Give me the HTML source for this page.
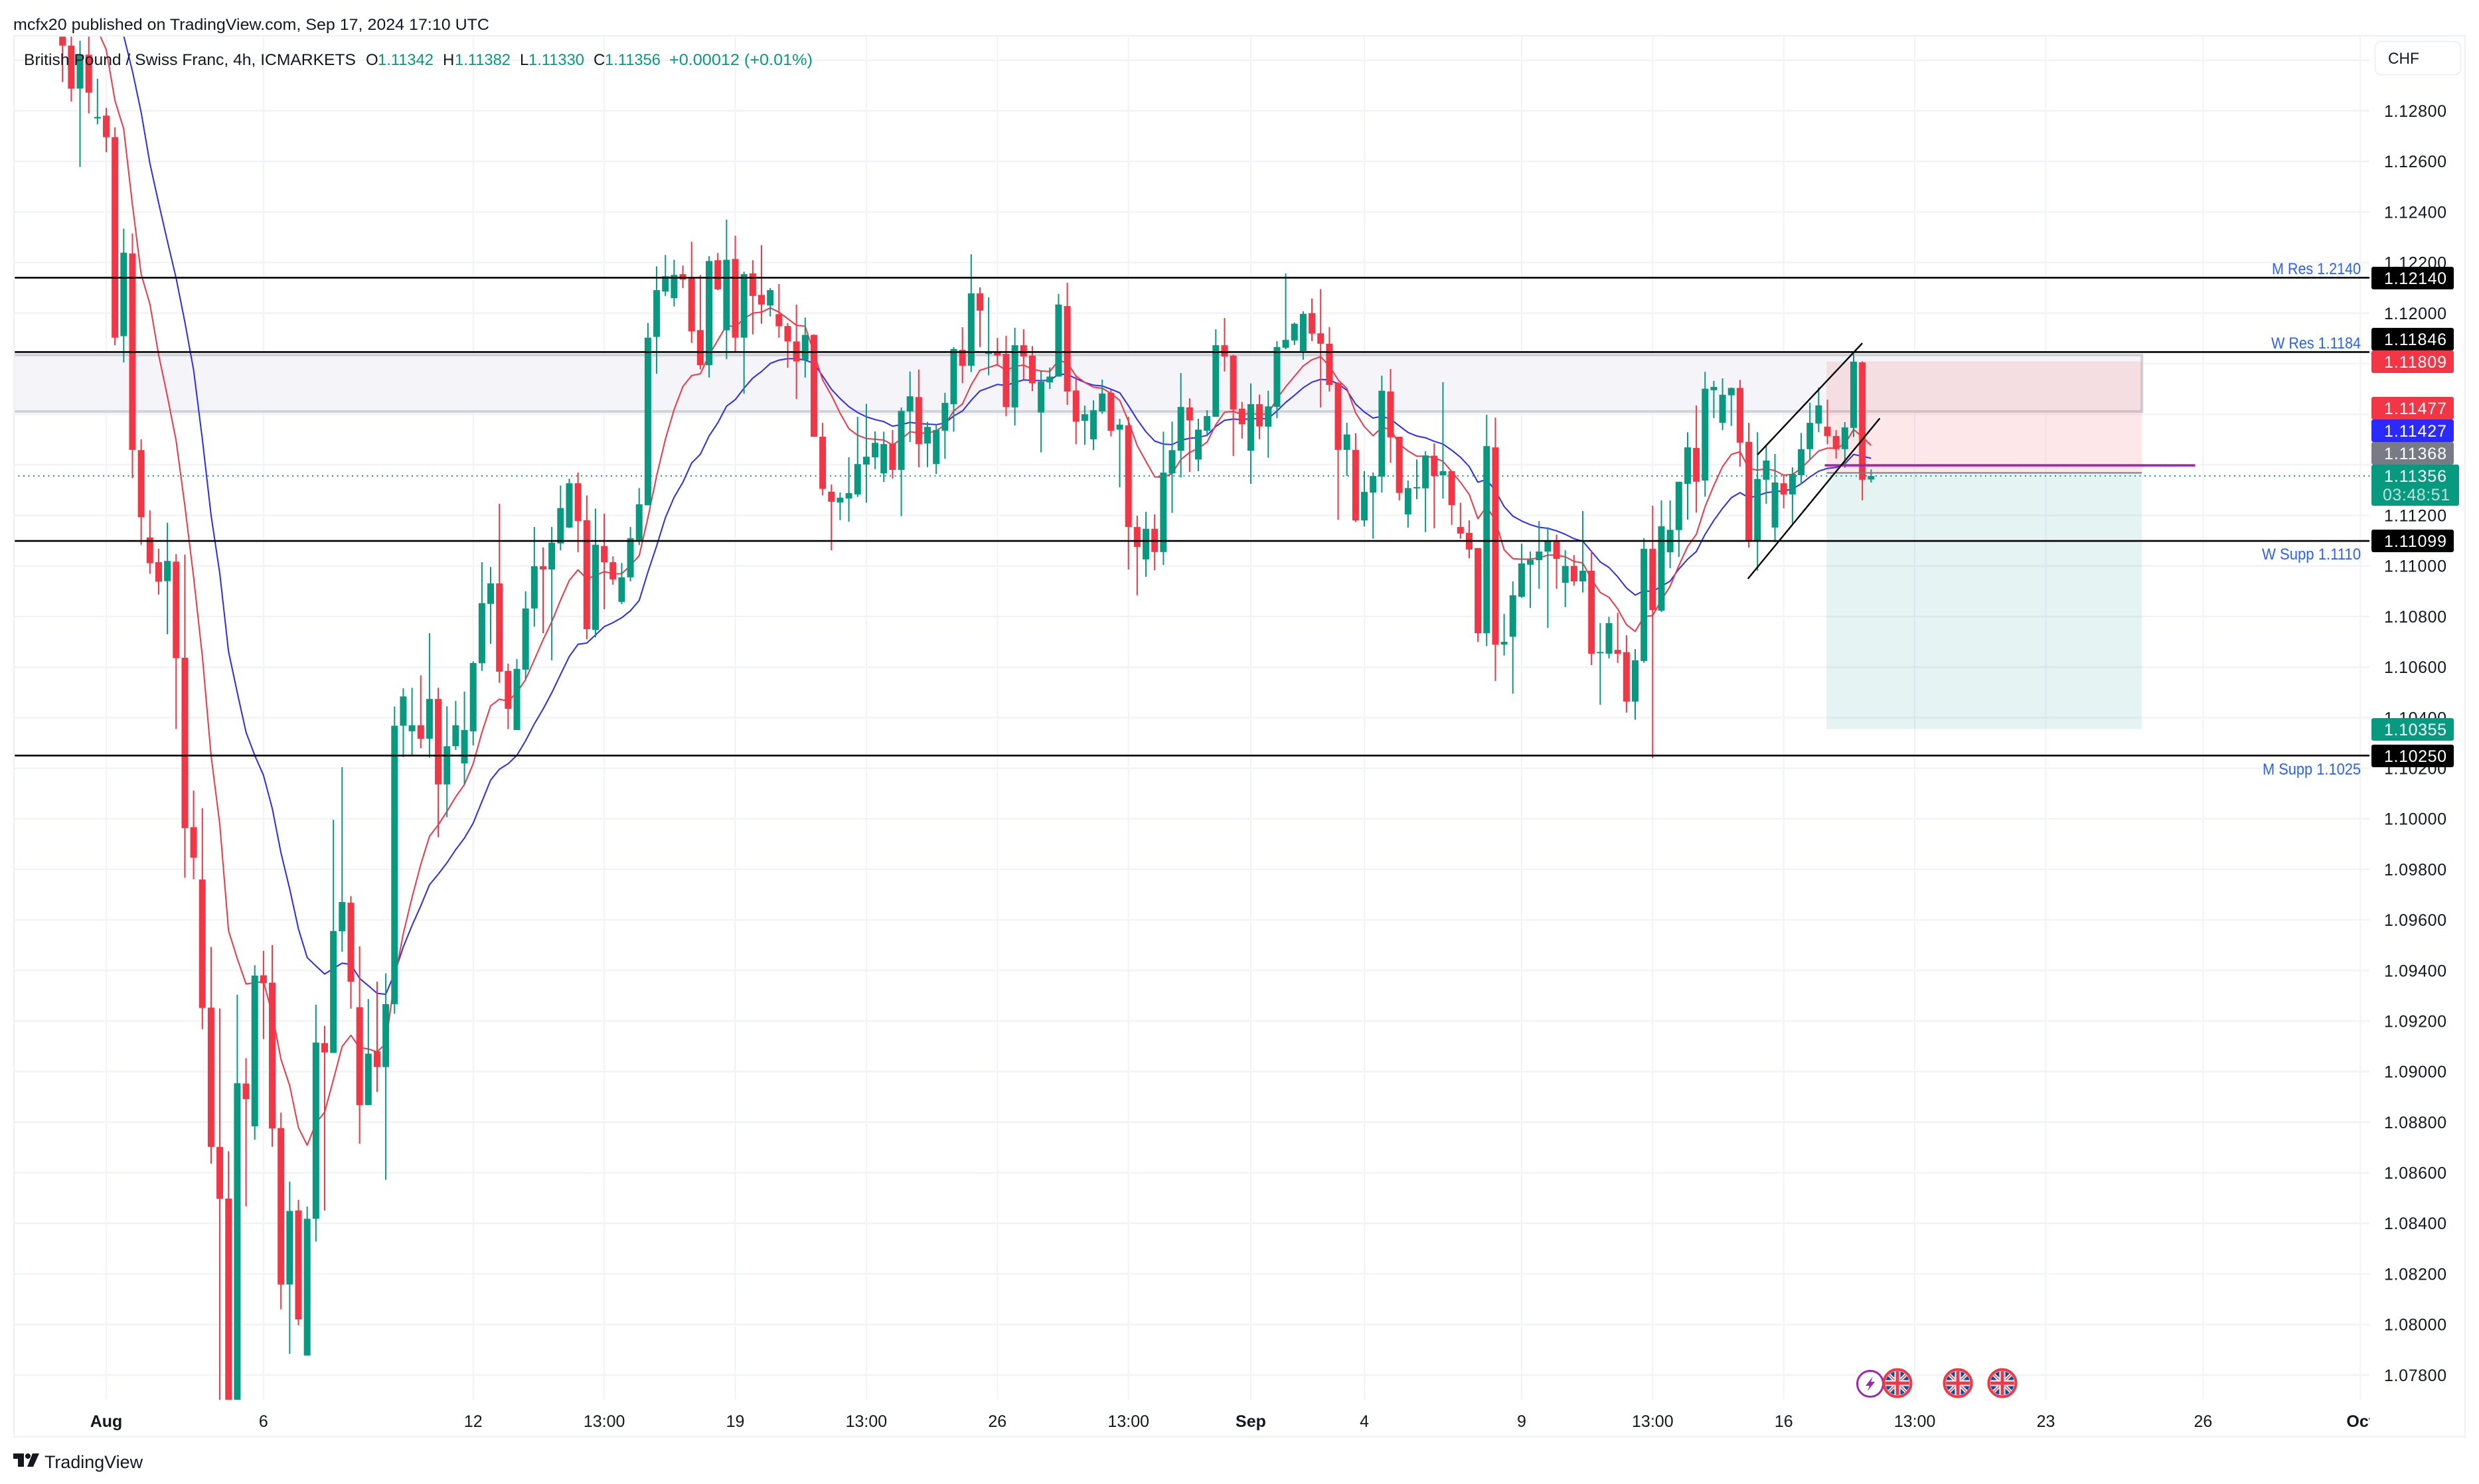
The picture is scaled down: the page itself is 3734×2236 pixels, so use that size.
<!DOCTYPE html>
<html lang="en">
<head>
<meta charset="utf-8">
<title>GBP/CHF 4h chart</title>
<style>
  html,body{margin:0;padding:0;background:#fff;width:3734px;height:2236px;overflow:hidden}
  svg{display:block}
  text{font-family:"Liberation Sans",sans-serif;fill:#131722}
  .tag{font-size:25px;fill:#fff}
  .lvl{font-size:24px;fill:#2962ff}
  .leg{font-size:24px}
  .val{font-size:24px;fill:#089981}
</style>
</head>
<body>
<svg id="chart" xmlns="http://www.w3.org/2000/svg" width="3734" height="2236" viewBox="0 0 3734 2236">
  <defs>
    <clipPath id="plot-clip"><rect x="20" y="53" width="3549" height="2056"/></clipPath>
    <clipPath id="time-clip"><rect x="20" y="2109" width="3549" height="56"/></clipPath>
    <clipPath id="flag-clip"><circle cx="0" cy="0" r="18"/></clipPath>
    <g id="uk-flag">
      <circle cx="0" cy="0" r="20.5" fill="#fff" stroke="#f23645" stroke-width="4"/>
      <g clip-path="url(#flag-clip)">
        <rect x="-18" y="-18" width="36" height="36" fill="#0f4a9c"/>
        <path d="M-18 -18L18 18M18 -18L-18 18" stroke="#fff" stroke-width="5"/>
        <path d="M-18 -18L18 18M18 -18L-18 18" stroke="#f23645" stroke-width="1.5"/>
        <path d="M0 -18V18M-18 0H18" stroke="#fff" stroke-width="9"/>
        <path d="M0 -18V18M-18 0H18" stroke="#f23645" stroke-width="5"/>
      </g>
    </g>
  </defs>

  <rect x="0" y="0" width="3734" height="2236" fill="#ffffff"/>
  <g id="grid"></g>
  <g id="drawings-under" clip-path="url(#plot-clip)"></g>
  <g id="ema" clip-path="url(#plot-clip)"></g>
  <g id="candles" clip-path="url(#plot-clip)"></g>
  <g id="drawings-over" clip-path="url(#plot-clip)"></g>

  <rect x="21" y="54" width="3692" height="2111" fill="none" stroke="#f0f1f6" stroke-width="2.5"/>

  <text x="20" y="45" font-size="24" textLength="717" lengthAdjust="spacingAndGlyphs">mcfx20 published on TradingView.com, Sep 17, 2024 17:10 UTC</text>

  <g>
    <text class="leg" x="36" y="98" textLength="500" lengthAdjust="spacingAndGlyphs">British Pound / Swiss Franc, 4h, ICMARKETS</text>
    <text class="leg" x="551" y="98">O</text>
    <text class="val" x="569" y="98" textLength="84" lengthAdjust="spacingAndGlyphs">1.11342</text>
    <text class="leg" x="667" y="98">H</text>
    <text class="val" x="685" y="98" textLength="84" lengthAdjust="spacingAndGlyphs">1.11382</text>
    <text class="leg" x="783" y="98">L</text>
    <text class="val" x="796" y="98" textLength="84" lengthAdjust="spacingAndGlyphs">1.11330</text>
    <text class="leg" x="894" y="98">C</text>
    <text class="val" x="911" y="98" textLength="84" lengthAdjust="spacingAndGlyphs">1.11356</text>
    <text class="val" x="1008" y="98" textLength="216" lengthAdjust="spacingAndGlyphs">+0.00012 (+0.01%)</text>
  </g>

  <g id="price-axis"></g>
  <g id="time-axis" clip-path="url(#time-clip)"></g>

  <g>
    <rect x="3577.5" y="62.5" width="129" height="50" rx="9" fill="#fff" stroke="#f0f1f6" stroke-width="2"/>
    <text x="3597" y="96" font-size="24" textLength="47" lengthAdjust="spacingAndGlyphs">CHF</text>
  </g>

  <g>
    <text class="lvl" x="3422" y="413" textLength="134" lengthAdjust="spacingAndGlyphs">M Res 1.2140</text>
    <text class="lvl" x="3421" y="525" textLength="135" lengthAdjust="spacingAndGlyphs">W Res 1.1184</text>
    <text class="lvl" x="3407" y="843" textLength="149" lengthAdjust="spacingAndGlyphs">W Supp 1.1110</text>
    <text class="lvl" x="3408" y="1167" textLength="148" lengthAdjust="spacingAndGlyphs">M Supp 1.1025</text>
  </g>

  <g>
    <g><rect x="3572" y="402" width="124" height="34" rx="3" fill="#000"/><text class="tag" x="3591" y="428" textLength="94">1.12140</text></g>
    <g><rect x="3572" y="494" width="124" height="34" rx="3" fill="#000"/><text class="tag" x="3591" y="520" textLength="94">1.11846</text></g>
    <g><rect x="3572" y="528" width="124" height="34" rx="3" fill="#f23645"/><text class="tag" x="3591" y="554" textLength="94">1.11809</text></g>
    <g><rect x="3572" y="598" width="124" height="34" rx="3" fill="#f23645"/><text class="tag" x="3591" y="624" textLength="94">1.11477</text></g>
    <g><rect x="3572" y="632" width="124" height="34" rx="3" fill="#2a2aff"/><text class="tag" x="3591" y="658" textLength="94">1.11427</text></g>
    <g><rect x="3572" y="666" width="124" height="34" rx="3" fill="#787b86"/><text class="tag" x="3591" y="692" textLength="94">1.11368</text></g>
    <g><rect x="3572" y="700" width="132" height="62" rx="3" fill="#089981"/><text class="tag" x="3591" y="726" textLength="94">1.11356</text><text class="tag" x="3589" y="754" textLength="101" style="fill:rgba(255,255,255,.72)">03:48:51</text></g>
    <g><rect x="3572" y="798" width="124" height="34" rx="3" fill="#000"/><text class="tag" x="3591" y="824" textLength="94">1.11099</text></g>
    <g><rect x="3572" y="1082" width="124" height="34" rx="3" fill="#089981"/><text class="tag" x="3591" y="1108" textLength="94">1.10355</text></g>
    <g><rect x="3572" y="1122" width="124" height="34" rx="3" fill="#000"/><text class="tag" x="3591" y="1148" textLength="94">1.10250</text></g>
  </g>

  <g>
    <g transform="translate(2817 2085)">
      <circle cx="0" cy="0" r="19.5" fill="#fff" stroke="#9c27b0" stroke-width="3"/>
      <path d="M4 -11L-7 3H-1L-4 11L7 -3H1Z" fill="#9c27b0"/>
    </g>
    <use href="#uk-flag" transform="translate(2858 2084)"/>
    <use href="#uk-flag" transform="translate(2949 2084)"/>
    <use href="#uk-flag" transform="translate(3016 2084)"/>
  </g>

  <g>
    <path d="M20 2190H36V2210H27V2198H20Z" fill="#131722"/>
    <circle cx="42" cy="2194" r="4" fill="#131722"/>
    <path d="M49 2190H59L50 2210H41Z" fill="#131722"/>
    <text x="67" y="2212" font-size="27" textLength="148" lengthAdjust="spacingAndGlyphs">TradingView</text>
  </g>
</svg>

<script>
// Prices are in units of 0.00001. First value belongs to the bar five places before "Aug".
const firstBar = -5;
const opens = [
113300,113058,112888,113022,112770,112781,112696,111909,112236,111458,
111113,111015,110940,111017,110637,109967,109760,109253,108702,108498,
107650,108953,108784,109381,109352,108777,108158,108451,107877,108418,
109113,109074,109555,109668,109255,108868,109080,109018,109267,110368,
110346,110370,110317,110474,110136,110287,110219,110346,110615,110850,
110931,110585,110351,110590,110832,110999,110986,111089,111152,111327,
111181,110747,111079,111015,110858,110955,111102,111240,111906,112085,
112059,112154,112138,111933,111794,112209,111932,112214,111903,112157,
112072,112030,111996,111949,111888,111814,111914,111511,111294,111251,
111267,111283,111401,111430,111366,111483,111380,111611,111668,111484,
111403,111535,111640,111855,111792,112078,111839,111846,111839,111627,
111873,111832,111607,111726,111749,112028,111694,111574,111501,111611,
111685,111539,111556,111154,111026,111147,111055,111366,111456,111627,
111421,111535,111590,111873,111832,111622,111456,111640,111551,111629,
111863,111892,111844,112000,111920,111879,111723,111459,111459,111180,
111290,111353,111690,111511,111204,111307,111307,111436,111358,111375,
111154,111131,111071,110734,111469,110689,110720,110878,111005,111023,
111057,111099,110933,111000,110939,110981,110656,110653,110668,110659,
110464,110624,111068,110823,111054,111142,111325,111467,111338,111695,
111566,111675,111704,111491,111099,111341,111152,111327,111283,111359,
111462,111563,111551,111514,111462,111546,111805,111342];
const highs = [
113400,113300,113077,113300,112927,112812,112735,112334,112315,111501,
111220,111068,111171,111047,111045,110112,110042,109493,109250,108685,
109304,109053,109421,109478,109501,108838,108565,108493,108466,109265,
109181,109996,110204,109694,109496,109287,109356,109389,110444,110516,
110518,110567,110734,110518,110445,110466,110503,110623,111015,110996,
111246,110614,110632,110900,111154,111073,111154,111318,111345,111370,
111279,111227,111207,111038,111012,111154,111308,111961,112185,112230,
112211,112188,112282,112151,112225,112238,112370,112306,112164,112209,
112269,112099,112115,111961,112034,111982,111916,111566,111322,111291,
111430,111590,111641,111532,111531,111538,111627,111769,111777,111570,
111556,111685,111866,111944,112233,112102,112062,111902,111910,111942,
111936,111870,111773,111785,112076,112120,111754,111634,111655,111737,
111696,111582,111590,111199,111214,111204,111531,111571,111763,111663,
111582,111616,111936,111981,111835,111649,111722,111678,111693,111889,
112157,111963,112007,112058,112095,111945,111727,111566,111525,111375,
111370,111753,111779,111511,111338,111421,111454,111485,111727,111375,
111250,111180,111071,111598,111587,110810,110939,111088,111057,111178,
111153,111124,111062,111043,111217,111062,110774,110799,110815,110726,
110671,111110,111238,111259,111259,111333,111529,111635,111768,111732,
111742,111706,111736,111566,111529,111474,111443,111362,111390,111526,
111646,111706,111658,111537,111569,111841,111810,111382];
const lows = [
112914,112837,112578,112790,112747,112637,111873,111805,111347,111084,
110969,110887,110730,110355,109767,109761,109168,108636,107600,107600,
107600,108467,108731,109129,108703,108060,107884,107997,107877,108328,
108451,109074,109474,109249,108715,108868,108920,108572,109229,110244,
110251,110279,110242,109927,110006,110272,110136,110290,110585,110692,
110538,110355,110351,110551,110760,110734,110627,111062,111150,111054,
110710,110718,110829,110926,110849,110939,111083,111240,111760,112067,
112026,112099,111882,111778,111745,112091,111818,111843,111681,111916,
111958,111987,111903,111784,111660,111745,111511,111279,111062,111181,
111175,111273,111250,111383,111332,111346,111197,111490,111390,111391,
111364,111424,111531,111723,111767,111866,111754,111791,111593,111556,
111737,111692,111449,111700,111749,111637,111482,111479,111458,111602,
111512,111311,110986,110884,110957,110983,111004,111210,111350,111372,
111375,111513,111590,111769,111435,111504,111325,111501,111428,111585,
111857,111874,111816,111889,111627,111690,111183,111356,111174,111156,
111108,111290,111408,111259,111152,111264,111134,111149,111266,111163,
111108,111031,110700,110683,110545,110646,110495,110874,110834,110910,
110755,110910,110837,110922,110895,110608,110451,110634,110617,110420,
110392,110617,110240,110818,110991,111036,111183,111211,111274,111585,
111537,111554,111393,111073,110981,111246,111094,111228,111167,111322,
111422,111529,111482,111425,111388,111510,111259,111330];
const closes = [
113058,112888,113022,112872,112776,112696,111903,112239,111459,111193,
111011,110938,111020,110635,109963,109846,109252,108702,108497,107650,
108954,108891,109380,109350,108775,108158,108449,108020,108418,109115,
109076,109556,109671,109356,108868,109071,109018,109267,110368,110484,
110370,110317,110474,110136,110287,110370,110351,110616,110853,110931,
110582,110435,110593,110832,110999,110986,111092,111229,111327,111178,
110750,111084,111015,110947,110955,111110,111244,111903,112091,112146,
112151,112133,111928,111794,112206,112094,112211,111903,112154,112068,
112034,112091,111948,111888,111809,111914,111511,111305,111254,111270,
111288,111403,111432,111487,111482,111380,111613,111671,111482,111550,
111538,111645,111858,111792,112078,112010,111846,111832,111629,111873,
111829,111723,111729,111749,112034,111690,111571,111600,111616,111682,
111535,111559,111154,111075,111147,111055,111369,111458,111629,111576,
111539,111593,111873,111829,111619,111561,111640,111552,111631,111866,
111894,111958,111997,111919,111879,111716,111459,111520,111180,111293,
111356,111693,111509,111289,111308,111312,111437,111356,111375,111241,
111128,111065,110734,111474,110689,110700,110884,111010,111024,111057,
111099,111028,111000,110939,110981,110653,110660,110774,110653,110464,
110627,111068,110826,111157,111143,111333,111469,111333,111701,111708,
111677,111704,111488,111097,111344,111417,111330,111283,111364,111462,
111566,111635,111514,111462,111548,111808,111341,111356];
const emaFast = [null,null,null,null,113120,
113042,112840,112729,112428,112154,112036,111834,111671,111495,111239,
110956,110642,110251,109976,109558,109447,109347,109352,109356,109228,
109049,108944,108778,108709,108796,108840,108969,109099,109144,109095,
109090,109078,109111,109363,109546,109689,109820,109931,109976,110029,
110087,110136,110218,110342,110447,110473,110466,110499,110551,110629,
110708,110780,110865,110943,110985,110949,110962,110978,110969,110969,
111002,111041,111191,111357,111501,111619,111710,111753,111760,111834,
111893,111952,111945,111978,112000,112004,112021,112004,111978,111952,
111948,111841,111736,111675,111604,111543,111517,111504,111501,111498,
111479,111501,111531,111526,111526,111534,111559,111613,111641,111716,
111774,111785,111796,111774,111789,111795,111778,111771,111769,111813,
111803,111751,111726,111707,111703,111682,111655,111572,111476,111414,
111353,111350,111366,111421,111449,111465,111490,111559,111608,111611,
111600,111603,111599,111603,111661,111709,111750,111791,111816,111828,
111791,111736,111702,111606,111551,111515,111548,111540,111482,111455,
111434,111434,111428,111414,111373,111331,111283,111187,111235,111180,
111064,111029,111027,111027,111032,111043,111043,111036,111018,111012,
110947,110895,110876,110830,110768,110741,110799,110804,110865,110920,
111002,111077,111125,111235,111318,111393,111441,111452,111386,111379,
111385,111377,111359,111362,111386,111421,111455,111466,111466,111482,
111540,111510,111477];
const emaSlow = [null,null,null,null,null,null,
113350,113097,112957,112794,112592,112435,112285,112138,111965,
111775,111501,111201,110969,110662,110499,110342,110251,110172,110042,
109865,109722,109565,109451,109418,109386,109408,109429,109424,109369,
109340,109310,109306,109389,109493,109578,109656,109739,109781,109826,
109878,109924,109983,110068,110153,110196,110218,110251,110309,110375,
110434,110499,110571,110642,110690,110695,110727,110760,110776,110795,
110823,110864,110976,111080,111191,111272,111331,111407,111442,111514,
111566,111632,111658,111703,111743,111769,111801,111814,111820,111820,
111814,111801,111751,111699,111662,111630,111607,111590,111579,111571,
111553,111559,111568,111563,111561,111559,111565,111593,111613,111655,
111692,111705,111718,111714,111726,111736,111734,111733,111734,111758,
111758,111741,111726,111715,111712,111699,111685,111634,111579,111531,
111494,111482,111480,111497,111505,111508,111517,111552,111576,111581,
111579,111583,111582,111583,111613,111647,111675,111705,111727,111738,
111736,111720,111695,111640,111609,111585,111592,111581,111554,111528,
111514,111507,111493,111482,111458,111430,111393,111331,111342,111297,
111235,111197,111178,111163,111153,111149,111139,111125,111108,111098,
111057,111016,110994,110957,110913,110885,110902,110899,110920,110940,
110988,111027,111057,111125,111180,111228,111270,111290,111270,111277,
111290,111294,111297,111304,111325,111352,111375,111386,111390,111404,
111441,111434,111426];
const priceTickLabels = ['1.07800','1.08000','1.08200','1.08400','1.08600','1.08800','1.09000','1.09200','1.09400','1.09600','1.09800','1.10000','1.10200','1.10400','1.10600','1.10800','1.11000','1.11200','1.11400','1.11600','1.11800','1.12000','1.12200','1.12400','1.12600','1.12800'];
const extraGridPrice = 113000;
const timeTickLabels = ['Aug','6','12','13:00','19','13:00','26','13:00','Sep','4','9','13:00','16','13:00','23','26','Oct'];
const timeTickBars = [0,18,42,57,72,87,102,117,131,144,162,177,192,207,222,240,258];
const boldTimeTicks = ['Aug','Sep','Oct'];
const levelPrices = [112140,111846,111099,110250];
const zonePrices = [111834,111611];
const zoneBarEnd = 233;
const positionPrices = {stop:111809, entry:111368, target:110355};
const positionBars = [196.9,233];
const pivotPrice = 111398;
const pivotBars = [196.7,239.1];
const lastPrice = 111356;
const channelUpper = {bars:[189,201], prices:[111440,111881]};
const channelLower = {bars:[187.9,203], prices:[110949,111584]};

const SVGNS = 'http://www.w3.org/2000/svg';
const X0 = 160, STEP = 13.16, Y_110000 = 1233.7, PX_PER_UNIT = 0.38096;
const PLOT_L = 20, PLOT_R = 3569, PLOT_T = 53, PLOT_B = 2109;
const UP = '#089981', DOWN = '#f23645', SLOW = '#2a2aff';
function barX(i){ return X0 + STEP * i; }
function priceY(u){ return Y_110000 + (110000 - u) * PX_PER_UNIT; }
function make(parent, tag, attrs, text){
  const el = document.createElementNS(SVGNS, tag);
  for (const k in attrs) el.setAttribute(k, attrs[k]);
  if (text !== undefined) el.textContent = text;
  parent.appendChild(el);
  return el;
}
const gridG = document.getElementById('grid');
const underG = document.getElementById('drawings-under');
const emaG = document.getElementById('ema');
const candleG = document.getElementById('candles');
const overG = document.getElementById('drawings-over');
const priceAxisG = document.getElementById('price-axis');
const timeAxisG = document.getElementById('time-axis');

/* grid + axes */
priceTickLabels.forEach(function(label){
  const u = Math.round(parseFloat(label) * 100000);
  const y = priceY(u);
  const g = make(gridG, 'line', {x1:PLOT_L, x2:PLOT_R, y1:y, y2:y, stroke:'#f2f3f6', 'stroke-width':2.4});
  
  
  const t = make(priceAxisG, 'text', {x:3591, y:y + 9, 'font-size':25, textLength:94}, label);
  
  
});
const topGrid = make(gridG, 'line', {x1:PLOT_L, x2:PLOT_R, y1:priceY(extraGridPrice), y2:priceY(extraGridPrice), stroke:'#f2f3f6', 'stroke-width':2.4});


timeTickLabels.forEach(function(label, k){
  const x = barX(timeTickBars[k]);
  const g = make(gridG, 'line', {x1:x, x2:x, y1:PLOT_T, y2:PLOT_B, stroke:'#f2f3f6', 'stroke-width':2});
  
  
  const bold = boldTimeTicks.indexOf(label) >= 0;
  const t = make(timeAxisG, 'text', {x:x, y:2150, 'font-size':25, 'text-anchor':'middle', 'font-weight':bold ? 700 : 400}, label);
  
  
});

/* zone + position tool */
const zone = make(underG, 'rect', {x:PLOT_L - 10, y:priceY(zonePrices[0]), width:barX(zoneBarEnd) - PLOT_L + 10, height:priceY(zonePrices[1]) - priceY(zonePrices[0]), fill:'#f5f5f9', stroke:'#d0d2dc', 'stroke-width':4});


const stopArea = make(underG, 'rect', {x:barX(positionBars[0]), y:priceY(positionPrices.stop), width:barX(positionBars[1]) - barX(positionBars[0]), height:priceY(positionPrices.entry) - priceY(positionPrices.stop), fill:'rgba(242,54,69,.12)'});


const targetArea = make(underG, 'rect', {x:barX(positionBars[0]), y:priceY(positionPrices.entry), width:barX(positionBars[1]) - barX(positionBars[0]), height:priceY(positionPrices.target) - priceY(positionPrices.entry), fill:'rgba(8,153,129,.105)'});


const lastLine = make(underG, 'line', {x1:PLOT_L, x2:PLOT_R, y1:priceY(lastPrice), y2:priceY(lastPrice), stroke:UP, 'stroke-width':2, 'stroke-dasharray':'2 5.5'});



/* moving averages */
function emaPoints(series){
  const pts = [];
  series.forEach(function(v, k){
    if (v !== null) pts.push(barX(k + firstBar).toFixed(1) + ',' + priceY(v).toFixed(1));
  });
  return pts.join(' ');
}
const slowLine = make(emaG, 'polyline', {points:emaPoints(emaSlow), fill:'none', stroke:SLOW, 'stroke-width':2, 'stroke-linejoin':'round'});


const fastLine = make(emaG, 'polyline', {points:emaPoints(emaFast), fill:'none', stroke:DOWN, 'stroke-width':2, 'stroke-linejoin':'round'});



/* candles */
opens.forEach(function(o, k){
  const c = closes[k];
  const color = c >= o ? UP : DOWN;
  const x = barX(k + firstBar);
  const wick = make(candleG, 'rect', {x:x - 1, y:priceY(highs[k]), width:2, height:priceY(lows[k]) - priceY(highs[k]), fill:color});
  
  
  const top = priceY(Math.max(o, c));
  const h = Math.max(2, priceY(Math.min(o, c)) - top);
  const body = make(candleG, 'rect', {x:x - 5, y:top, width:10, height:h, fill:color});
  
  
});

/* levels and drawings */
levelPrices.forEach(function(p){
  const l = make(overG, 'line', {x1:PLOT_L, x2:PLOT_R, y1:priceY(p), y2:priceY(p), stroke:'#000', 'stroke-width':2.6});
  
  
});
const entryLine = make(overG, 'line', {x1:barX(positionBars[0]), x2:barX(positionBars[1]), y1:priceY(positionPrices.entry), y2:priceY(positionPrices.entry), stroke:'#787b86', 'stroke-width':2});


const pivot = make(overG, 'line', {x1:barX(pivotBars[0]), x2:barX(pivotBars[1]), y1:priceY(pivotPrice), y2:priceY(pivotPrice), stroke:'#9c27b0', 'stroke-width':3.5});


const upperCh = make(overG, 'line', {x1:barX(channelUpper.bars[0]), y1:priceY(channelUpper.prices[0]), x2:barX(channelUpper.bars[1]), y2:priceY(channelUpper.prices[1]), stroke:'#000', 'stroke-width':2.4});


const lowerCh = make(overG, 'line', {x1:barX(channelLower.bars[0]), y1:priceY(channelLower.prices[0]), x2:barX(channelLower.bars[1]), y2:priceY(channelLower.prices[1]), stroke:'#000', 'stroke-width':2.4});


</script>
</body>
</html>
